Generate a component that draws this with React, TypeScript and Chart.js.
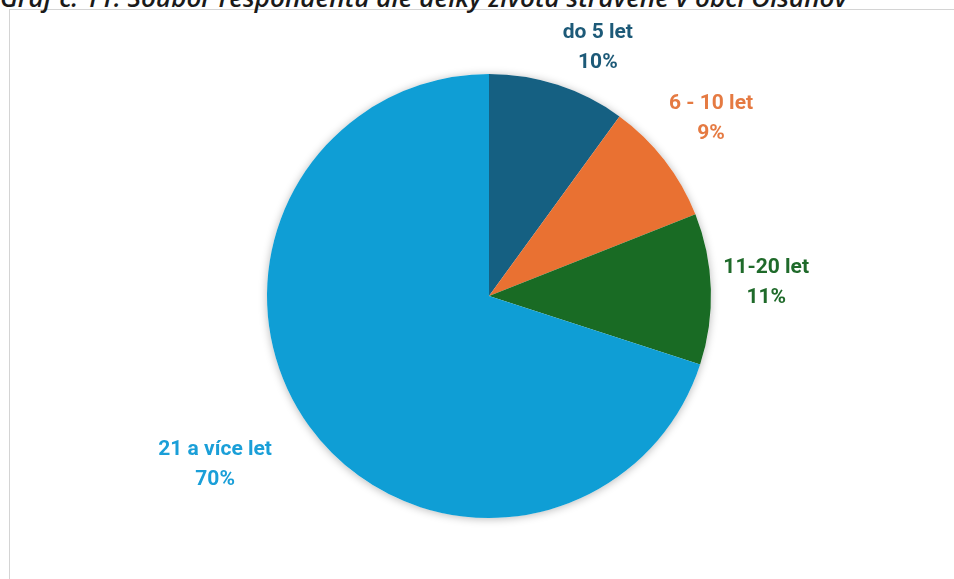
import React, { useEffect, useRef } from "react";
import { Chart, registerables } from "chart.js";

Chart.register(...registerables);

const titleText = "Graf č. 11: Soubor respondentů dle délky života strávené v obci Olšanov";
const categories = ["do 5 let", "6 - 10 let", "11-20 let", "21 a více let"];
const values = [10, 9, 11, 70];
const percentLabels = ["10%", "9%", "11%", "70%"];
const colors = ["#156082", "#E97132", "#196B24", "#0F9ED5"];
const labelColors = ["#1d5a78", "#e57a42", "#1f6a2a", "#1a9fd8"];

// label placement: radius factor and angle offset (degrees) relative to slice mid angle
const labelRadiusFactor = [1.22, 1.28, 1.25, 1.45];
const labelAngleOffset = [5.7, -0.8, -0.9, 4.3];

const shadowPlugin = {
  id: "pieShadow",
  beforeDatasetsDraw(chart: any) {
    const meta = chart.getDatasetMeta(0);
    const a = meta.data[0];
    if (!a) return;
    const ctx = chart.ctx;
    ctx.save();
    ctx.shadowColor = "rgba(0,0,0,0.28)";
    ctx.shadowBlur = 9;
    ctx.shadowOffsetX = 0;
    ctx.shadowOffsetY = 1;
    ctx.fillStyle = "#ffffff";
    ctx.beginPath();
    ctx.arc(a.x, a.y, a.outerRadius, 0, Math.PI * 2);
    ctx.fill();
    ctx.restore();
  },
};

const labelPlugin = {
  id: "pieLabels",
  afterDatasetsDraw(chart: any) {
    const meta = chart.getDatasetMeta(0);
    const ctx = chart.ctx;
    ctx.save();
    ctx.textAlign = "center";
    ctx.textBaseline = "middle";
    ctx.font = "bold 21px Roboto, 'Noto Sans', sans-serif";
    meta.data.forEach((arc: any, i: number) => {
      const mid = (arc.startAngle + arc.endAngle) / 2 + (labelAngleOffset[i] * Math.PI) / 180;
      const d = arc.outerRadius * labelRadiusFactor[i];
      const x = arc.x + Math.cos(mid) * d;
      const y = arc.y + Math.sin(mid) * d;
      ctx.fillStyle = labelColors[i];
      ctx.fillText(categories[i], x, y - 15);
      ctx.fillText(percentLabels[i], x, y + 15);
    });
    ctx.restore();
  },
};

export default function App() {
  const canvasRef = useRef<HTMLCanvasElement | null>(null);

  useEffect(() => {
    if (!canvasRef.current) return;
    const chart = new Chart(canvasRef.current, {
      type: "pie",
      data: {
        labels: categories,
        datasets: [
          {
            data: values,
            backgroundColor: colors,
            borderWidth: 0,
          },
        ],
      },
      options: {
        animation: false,
        responsive: false,
        maintainAspectRatio: false,
        rotation: 0,
        layout: { padding: { left: 267, right: 243, top: 74, bottom: 61 } },
        plugins: {
          legend: { display: false },
          tooltip: { enabled: false },
        },
      },
      plugins: [shadowPlugin, labelPlugin],
    });
    return () => chart.destroy();
  }, []);

  return (
    <div
      style={{
        position: "fixed",
        left: 0,
        top: 0,
        width: 954,
        height: 579,
        overflow: "hidden",
        background: "#ffffff",
      }}
    >
      <div
        style={{
          position: "absolute",
          left: 9,
          top: 9,
          width: 980,
          height: 620,
          border: "1px solid #d4d4d4",
          boxSizing: "border-box",
        }}
      />
      <div
        style={{
          position: "absolute",
          left: 0,
          top: -17,
          whiteSpace: "nowrap",
          fontFamily: "'Open Sans', 'Liberation Sans', sans-serif",
          fontStyle: "italic",
          fontWeight: 600,
          fontSize: 26,
          lineHeight: "28px",
          color: "#1a1a1a",
        }}
      >
        {titleText}
      </div>
      <canvas
        ref={canvasRef}
        width={954}
        height={579}
        style={{ position: "absolute", left: 0, top: 0, width: 954, height: 579 }}
      />
    </div>
  );
}
